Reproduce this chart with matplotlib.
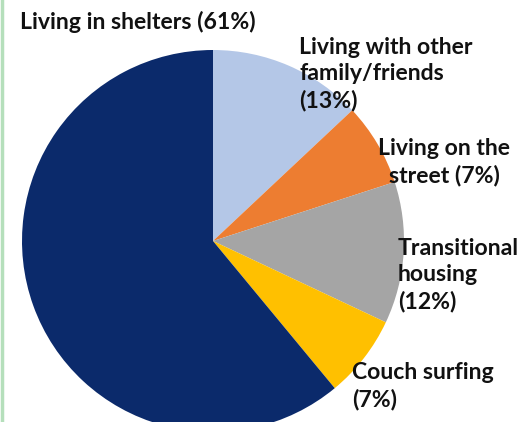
import matplotlib.pyplot as plt
from matplotlib.lines import Line2D

# data
categories = ["Living with other\nfamily/friends", "Living on the\nstreet", "Transitional\nhousing",
              "Couch surfing", "Living in shelters"]
shares = [13, 7, 12, 7, 61]
colors = ["#b4c7e7", "#ed7d31", "#a5a5a5", "#ffc000", "#0b2a6b"]

plt.rcParams['font.family'] = ['Lato', 'DejaVu Sans']

fig = plt.figure(figsize=(5.31, 4.22), dpi=100)
ax = fig.add_axes([0, 0, 1, 1])
ax.pie(shares, colors=colors, startangle=90, counterclock=False,
       center=(213, 181), radius=191, wedgeprops=dict(linewidth=0))
ax.set_xlim(0, 531)
ax.set_ylim(0, 422)
ax.set_aspect('auto')
ax.axis('off')

fs = 16.6
kw = dict(fontsize=fs, fontweight='bold', color='#111111', linespacing=1.32)
ax.text(20, 400, "Living in shelters (61%)", ha='left', va='center', **kw)
ax.text(299, 348, categories[0] + "\n(13%)", ha='left', va='center', **kw)
ax.text(444, 260, categories[1] + " (7%)", ha='center', va='center', **kw)
ax.text(398, 147, categories[2] + "\n(12%)", ha='left', va='center', **kw)
ax.text(352, 36, categories[3] + "\n(7%)", ha='left', va='center', **kw)

# thin green border on the left edge
fig.add_artist(Line2D([0.003, 0.003], [0, 1], color='#b5dfbb', linewidth=2.5, transform=fig.transFigure))

fig.savefig("out.png", dpi=100)
